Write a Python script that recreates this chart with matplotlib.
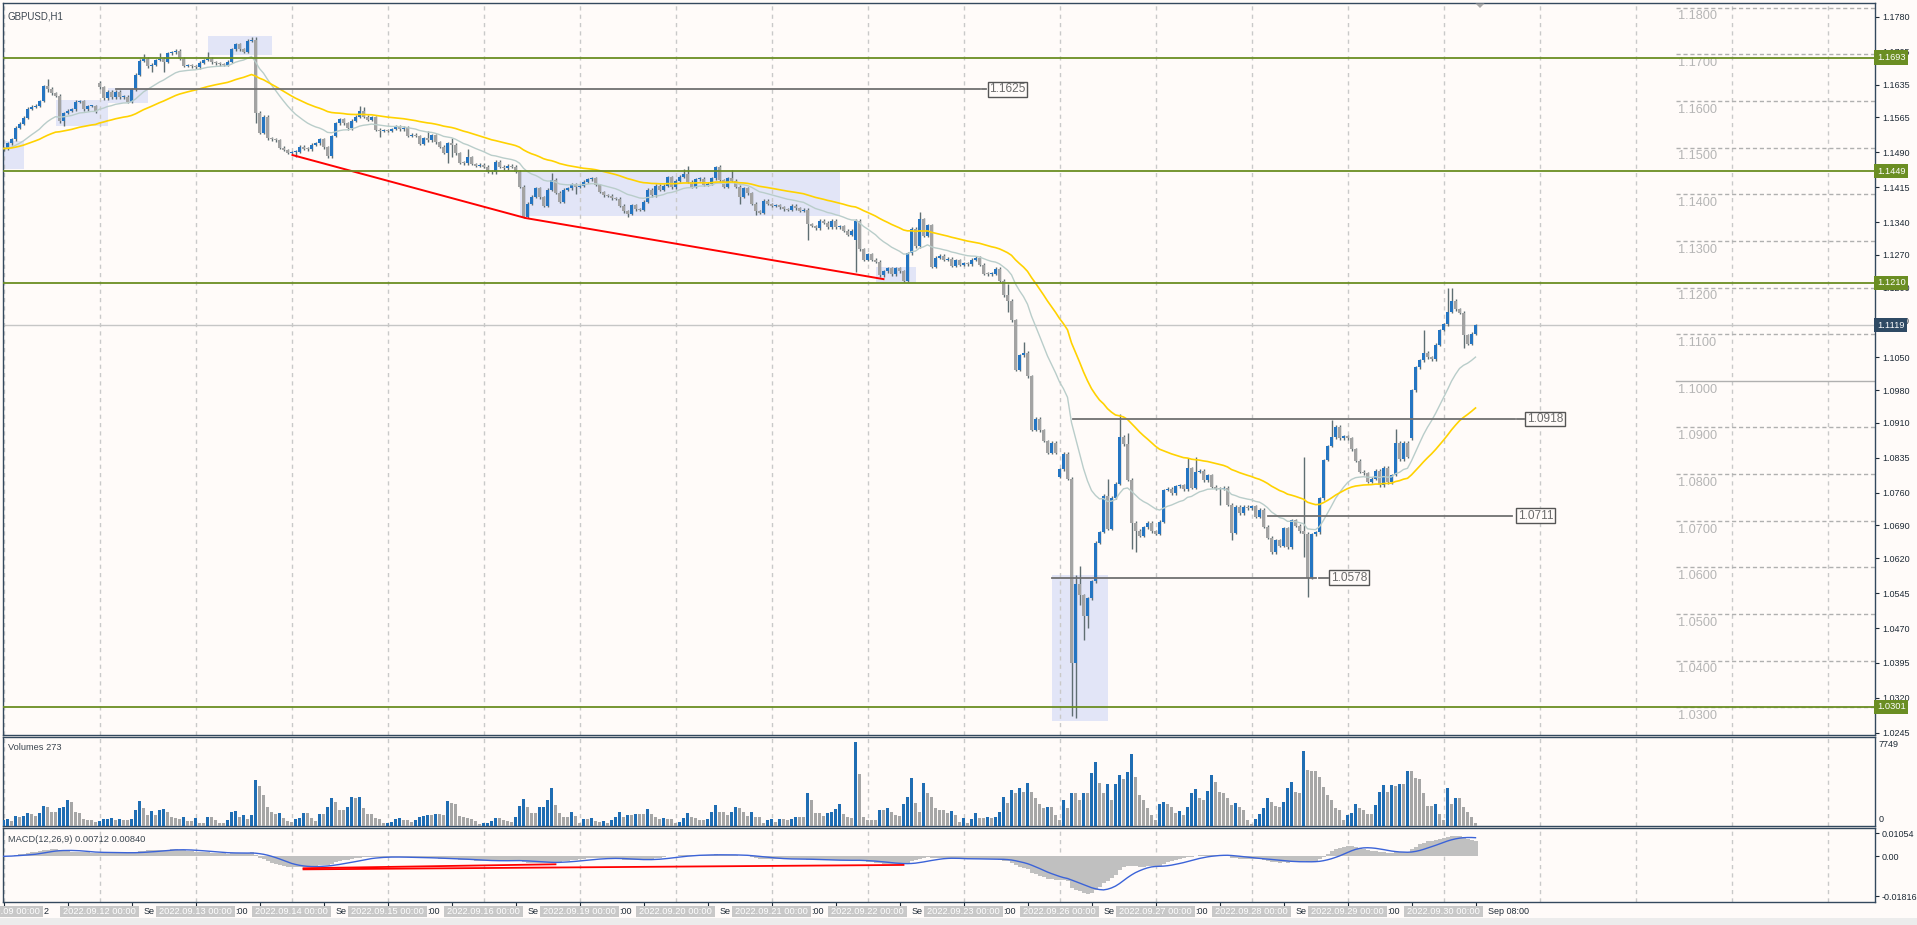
import matplotlib

matplotlib.use("Agg")
import matplotlib.pyplot as plt
from matplotlib.patches import Polygon, Rectangle
import numpy as np
import pandas as pd

W, H = 1917, 925
BG = "#fffbf9"
FONT = "Liberation Sans"
plt.rcParams["font.family"] = [FONT, "DejaVu Sans"]

# H1 closes in pips (0.0001), one per bar starting 2022.09.09 00:00
CLOSE_PIPS = [
    11498, 11509, 11518, 11543, 11551, 11564, 11583, 11588, 11590, 11600,
    11631, 11626, 11616, 11611, 11556, 11574, 11579, 11582, 11598, 11600,
    11582, 11589, 11589, 11577, 11629, 11606, 11620, 11608, 11620, 11608,
    11609, 11598, 11625, 11656, 11686, 11691, 11674, 11678, 11688, 11691,
    11684, 11702, 11704, 11708, 11691, 11675, 11676, 11674, 11672, 11682,
    11688, 11691, 11683, 11681, 11679, 11677, 11684, 11711, 11722, 11711,
    11706, 11729, 11731, 11575, 11532, 11566, 11520, 11518, 11516, 11500,
    11495, 11489, 11490, 11491, 11502, 11498, 11496, 11506, 11509, 11518,
    11501, 11481, 11525, 11552, 11561, 11552, 11541, 11558, 11566, 11579,
    11566, 11559, 11565, 11538, 11536, 11537, 11536, 11540, 11545, 11539,
    11543, 11525, 11528, 11525, 11508, 11520, 11516, 11526, 11511, 11502,
    11489, 11509, 11506, 11488, 11468, 11466, 11480, 11465, 11461, 11463,
    11459, 11448, 11447, 11470, 11459, 11456, 11461, 11459, 11448, 11416,
    11352, 11380, 11395, 11413, 11393, 11375, 11410, 11431, 11403, 11384,
    11410, 11413, 11422, 11416, 11418, 11427, 11432, 11434, 11420, 11405,
    11398, 11397, 11391, 11390, 11375, 11363, 11358, 11377, 11368, 11367,
    11384, 11410, 11398, 11418, 11410, 11418, 11436, 11415, 11429, 11438,
    11443, 11427, 11416, 11432, 11433, 11420, 11423, 11434, 11459, 11430,
    11416, 11434, 11429, 11416, 11395, 11413, 11402, 11380, 11363, 11360,
    11386, 11379, 11375, 11377, 11372, 11368, 11367, 11375, 11370, 11365,
    11367, 11336, 11332, 11327, 11343, 11339, 11329, 11343, 11329, 11332,
    11322, 11313, 11322, 11343, 11282, 11259, 11272, 11260, 11255, 11226,
    11235, 11241, 11228, 11241, 11235, 11215, 11273, 11326, 11288, 11347,
    11311, 11333, 11245, 11264, 11268, 11260, 11262, 11247, 11258, 11249,
    11252, 11250, 11260, 11264, 11249, 11230, 11228, 11230, 11240, 11215,
    11183, 11172, 11130, 11023, 11055, 11060, 11010, 10895, 10919, 10894,
    10871, 10846, 10867, 10846, 10810, 10844, 10790, 10395, 10564, 10540,
    10495, 10534, 10570, 10653, 10676, 10754, 10683, 10749, 10779, 10880,
    10864, 10788, 10696, 10679, 10668, 10686, 10696, 10677, 10672, 10698,
    10766, 10769, 10759, 10774, 10776, 10767, 10812, 10771, 10805, 10807,
    10787, 10798, 10773, 10769, 10768, 10771, 10734, 10674, 10730, 10716,
    10730, 10727, 10731, 10709, 10724, 10687, 10664, 10632, 10658, 10646,
    10684, 10643, 10701, 10689, 10677, 10672, 10578, 10671, 10675, 10748,
    10830, 10860, 10879, 10902, 10877, 10881, 10877, 10853, 10829, 10805,
    10802, 10784, 10790, 10807, 10776, 10814, 10782, 10798, 10867, 10832,
    10867, 10837, 10980, 11029, 11044, 11060, 11050, 11046, 11077, 11109,
    11121, 11148, 11172, 11153, 11146, 11098, 11079, 11101, 11119,
]
# opens that differ from the previous close (weekend gaps etc.)
OPEN_PIPS = {0: 11496, 24: 11639, 213: 11302, 264: 10794, 352: 10877}
HIGH_PIPS = {
    6: 11586, 10: 11634, 11: 11647, 35: 11700, 39: 11702, 51: 11704,
    62: 11738, 63: 11737, 89: 11589, 90: 11588, 106: 11536, 112: 11520,
    116: 11498, 137: 11446, 170: 11455, 171: 11460, 178: 11461, 182: 11453,
    229: 11362, 251: 11207, 255: 11083, 268: 10583, 269: 10602, 276: 10790,
    279: 10929, 281: 10889, 296: 10834, 298: 10837, 325: 10837, 332: 10917,
    348: 10896, 355: 11109, 361: 11198, 362: 11198,
}
LOW_PIPS = {
    11: 11620, 15: 11546, 37: 11661, 40: 11661, 63: 11552, 73: 11480,
    81: 11477, 94: 11523, 111: 11467, 112: 11480, 130: 11348, 143: 11401,
    156: 11352, 184: 11380, 188: 11356, 201: 11302, 213: 11234, 251: 11147,
    267: 10282, 268: 10278, 269: 10519, 270: 10444, 271: 10470, 282: 10640,
    283: 10632, 304: 10734, 307: 10658, 325: 10623, 326: 10537, 365: 11070,
}
WICK_PIPS = 3

VOLUMES = [
    500, 580, 430, 860, 820, 860, 1130, 1070, 860, 1130,
    1810, 1750, 1280, 1280, 1590, 1750, 2370, 2210, 1280, 1190,
    570, 510, 510, 360, 430, 570, 600, 660, 510, 570,
    510, 510, 570, 1440, 2300, 1590, 970, 1380, 970, 1440,
    1500, 1280, 750, 660, 570, 750, 430, 430, 660, 260,
    260, 750, 750, 510, 260, 200, 510, 1280, 1340, 750,
    970, 570, 970, 4220, 3670, 2830, 1690, 1280, 1070, 1130,
    660, 430, 360, 570, 660, 1190, 1130, 660, 430, 1070,
    1070, 1750, 2520, 2210, 1440, 1440, 1750, 2680, 2520, 2680,
    1590, 1070, 1070, 660, 570, 200, 260, 360, 570, 660,
    510, 510, 360, 510, 750, 860, 970, 970, 1070, 1070,
    970, 2300, 2060, 2000, 860, 750, 660, 570, 430, 110,
    200, 260, 430, 660, 660, 510, 430, 360, 750, 1810,
    2430, 1690, 1190, 1190, 1690, 1750, 2370, 3450, 1910, 1130,
    820, 750, 1280, 860, 200, 570, 570, 660, 430, 360,
    430, 260, 510, 750, 1250, 750, 970, 970, 1070, 1070,
    1070, 1500, 1070, 750, 570, 660, 570, 570, 200, 360,
    660, 1190, 750, 660, 510, 510, 570, 1280, 1900, 1280,
    1280, 970, 1280, 1750, 1590, 1280, 860, 1280, 750, 750,
    260, 510, 570, 360, 570, 570, 510, 570, 750, 750,
    750, 3040, 2370, 1190, 1130, 860, 1130, 1280, 1500, 1990,
    1070, 750, 660, 7749, 4780, 750, 510, 510, 510, 1440,
    1440, 1590, 1280, 970, 860, 1990, 2680, 4440, 2060, 1280,
    3910, 3040, 2680, 1590, 1440, 1440, 1130, 1380, 970, 360,
    660, 260, 570, 1190, 660, 660, 750, 660, 750, 1280,
    2680, 2060, 3290, 3040, 3450, 3140, 3910, 3140, 2520, 1990,
    1590, 1750, 1750, 970, 510, 2370, 1590, 3040, 3040, 2370,
    3040, 3040, 4840, 5920, 3910, 2980, 3850, 2370, 3850, 4680,
    4280, 4990, 6630, 4530, 2830, 2370, 1590, 970, 510, 1990,
    2210, 1990, 1690, 1130, 1380, 970, 1690, 2980, 3350, 2520,
    2370, 3230, 4680, 4070, 3140, 2980, 2520, 1900, 2060, 1690,
    1440, 510, 110, 570, 1070, 1590, 2520, 2210, 1810, 1750,
    2210, 3450, 4070, 3140, 3040, 6940, 5150, 5090, 5090, 4530,
    3600, 2830, 2370, 1590, 1440, 510, 970, 1190, 1990, 1590,
    1440, 1070, 1070, 1900, 3140, 3760, 3140, 3760, 3660, 3850,
    3850, 5090, 5090, 4380, 4280, 3040, 1810, 1810, 1990, 1070,
    510, 3450, 1990, 2520, 2520, 1690, 1280, 750, 273,
]

TRADING_DAYS = [9, 12, 13, 14, 15, 16, 19, 20, 21, 22, 23, 26, 27, 28, 29, 30]
FUTURE_DAY_LINES = 4
# parts of the time-scale labels left visible between the date badges
TIME_SCALE_BITS = ["2", "Se", ":00", "Se", ":00", "Se", ":00", "Se", ":00",
                   "Se", ":00", "Se", ":00", "Se", ":00", "Sep 08:00"]

SUPPORT_LEVELS = [1.1693, 1.1449, 1.1210, 1.0301]
LAST_PRICE = 1.1119
ROUND_LEVELS = [1.18, 1.17, 1.16, 1.15, 1.14, 1.13, 1.12, 1.11, 1.10,
                1.09, 1.08, 1.07, 1.06, 1.05, 1.04, 1.03]
PRICE_TICKS = [1.1780, 1.1705, 1.1635, 1.1565, 1.1490, 1.1415, 1.1340,
               1.1270, 1.1200, 1.1130, 1.1050, 1.0980, 1.0910, 1.0835,
               1.0760, 1.0690, 1.0620, 1.0545, 1.0470, 1.0395, 1.0320,
               1.0245]

# horizontal price-label objects: price, first bar, last bar, label bar
LEVEL_PRICES = [1.1625, 1.0918, 1.0711, 1.0578]
LEVEL_FROM = [28, 267.3, 316, 262]
LEVEL_TO = [244, 377.8, 377.2, 328.2]
LEVEL_LABEL_AT = [246.4, 380.8, 378.6, 331.8]

# shaded zones: bar from, bar to, price low, price high
ZONE_BARS = [(-1, 5), (13, 26), (26, 36), (51, 67), (129, 209), (218, 228), (262, 276)]
ZONE_PRICES = [(1.1455, 1.1514), (1.1546, 1.1602), (1.1596, 1.1628),
               (1.1699, 1.1739), (1.1353, 1.1448), (1.1210, 1.1244),
               (1.0270, 1.0584)]

TREND_BARS = [72.25, 130.5, 220]
TREND_PRICES = [1.1484, 1.1349, 1.1218]
MACD_TREND_BARS = [(75, 138), (75, 225)]
MACD_TREND_VALUES = [(-0.0054, -0.0036), (-0.0059, -0.0039)]

BULL = "#2475c2"
BEAR = "#a3a3a3"
WICK = "#5f6e72"
FRAME = "#34495e"
TEXT = "#1e2a36"


def box(x0, y0, x1, y1):
    return [x0 / W, 1 - y1 / H, (x1 - x0) / W, (y1 - y0) / H]


def main():
    n = len(CLOSE_PIPS)
    xs = np.arange(n)
    close = np.array(CLOSE_PIPS) / 1e4
    opn = np.r_[close[0], close[:-1]]
    for i, v in OPEN_PIPS.items():
        opn[i] = v / 1e4
    high = np.maximum(opn, close) + WICK_PIPS / 1e4
    low = np.minimum(opn, close) - WICK_PIPS / 1e4
    for i, v in HIGH_PIPS.items():
        high[i] = v / 1e4
    for i, v in LOW_PIPS.items():
        low[i] = v / 1e4

    s = pd.Series(close)
    ma_fast = s.ewm(span=20, adjust=False).mean()
    ma_slow = s.ewm(span=50, adjust=False).mean()
    macd = s.ewm(span=12, adjust=False).mean() - s.ewm(span=26, adjust=False).mean()
    signal = macd.rolling(9, min_periods=1).mean()

    fig = plt.figure(figsize=(W / 100, H / 100), dpi=100, facecolor=BG)
    ax = fig.add_axes(box(3, 3, 1875, 735), facecolor=BG)
    axv = fig.add_axes(box(3, 737, 1875, 826), facecolor=BG)
    axm = fig.add_axes(box(3, 828, 1875, 902), facecolor=BG)
    xlim = (-0.125, 467.875)
    day_bars = [24 * k for k in range(len(TRADING_DAYS) + FUTURE_DAY_LINES)]

    for a in (ax, axv, axm):
        a.set_xlim(*xlim)
        for sp in a.spines.values():
            sp.set_color(FRAME)
            sp.set_linewidth(1)
        for d in day_bars:
            a.axvline(d, color="#c9c9c9", lw=1, ls=(0, (3, 3)), zorder=1)

    # ---- price window
    ax.set_ylim(1.02406, 1.18100)
    for (b0, b1), (p0, p1) in zip(ZONE_BARS, ZONE_PRICES):
        ax.add_patch(Rectangle((b0, p0), b1 - b0, p1 - p0, fc="#e2e5f7", ec="none", zorder=0.5))

    x_round = 418.0
    for p in ROUND_LEVELS:
        ls = "-" if abs(p - 1.10) < 1e-9 else (0, (3, 2))
        ax.plot([x_round, xlim[1]], [p, p], color="#b0b0b0", lw=1, ls=ls, zorder=1)
        ax.text(x_round + 0.6, p - 0.0006, f"{p:.4f}", fontsize=9.2, color="#b5b5b5",
                ha="left", va="top", zorder=1)

    ax.axhline(LAST_PRICE, color="#c6c6c6", lw=1, zorder=2)

    ax.vlines(xs, low, high, color=WICK, lw=1, zorder=3)
    body_lo = np.minimum(opn, close)
    body_h = np.maximum(np.abs(close - opn), 0.00022)
    colors = np.where(close >= opn, BULL, BEAR)
    ax.bar(xs, body_h, bottom=body_lo, width=0.76, color=colors, lw=0, zorder=4)

    ax.plot(xs, ma_fast, color="#b9cdca", lw=1, zorder=5)
    ax.plot(xs, ma_slow, color="#ffd200", lw=1.2, zorder=5)
    ax.plot(TREND_BARS, TREND_PRICES, color="#ff0000", lw=1.4, zorder=5)

    for p in SUPPORT_LEVELS:
        ax.axhline(p, color="#6b8e23", lw=1.3, zorder=6)

    for p, b0, b1, bl in zip(LEVEL_PRICES, LEVEL_FROM, LEVEL_TO, LEVEL_LABEL_AT):
        ax.plot([b0, b1], [p, p], color="#707070", lw=1.3, zorder=6)
        ax.plot([b1 + 0.6, bl - 0.8], [p, p], color="#707070", lw=1.3, zorder=6)
        ax.text(bl, p, f"{p:.4f}", fontsize=8.6, color="#6a6a6a", ha="left", va="center",
                zorder=7, bbox=dict(boxstyle="square,pad=0.12", fc=BG, ec="#555555", lw=1))

    ax.yaxis.tick_right()
    ax.set_yticks(PRICE_TICKS)
    ax.set_yticklabels([f"{t:.4f}" for t in PRICE_TICKS])
    ax.tick_params(axis="y", length=3, width=0.8, pad=2, labelsize=6.5, colors=TEXT)
    ax.set_xticks([])

    def axis_badge(price, label, fc):
        ax.text(1.0011, price, label, transform=ax.get_yaxis_transform(), ha="left",
                va="center", fontsize=6.7, color="white", clip_on=False, zorder=10,
                bbox=dict(boxstyle="square,pad=0.28", fc=fc, ec="none"))

    for p in SUPPORT_LEVELS:
        axis_badge(p, f"{p:.4f}", "#6b8e23")
    axis_badge(LAST_PRICE, f"{LAST_PRICE:.4f}", "#2f4a64")

    ax.text(0.0022, 0.989, "GBPUSD,H1", transform=ax.transAxes, fontsize=7,
            color="#3c4650", ha="left", va="top")

    # ---- volumes window
    vols = np.array(VOLUMES)
    vcol = np.where(np.r_[True, vols[1:] > vols[:-1]], "#1f6db3", "#a6a6a6")
    axv.bar(xs, vols, width=0.72, color=vcol, lw=0, zorder=3)
    axv.set_ylim(-46, 8213)
    axv.set_xticks([])
    axv.set_yticks([])
    axv.text(0.0027, 0.93, "Volumes 273", transform=axv.transAxes, fontsize=6.7,
             color="#3c4650", ha="left", va="top")

    # ---- MACD window
    axm.bar(xs, macd, width=1.0, color="#c0c0c0", lw=0, zorder=2)
    axm.plot(xs, signal, color="#3b63d8", lw=1, zorder=3)
    for (b0, b1), (v0, v1) in zip(MACD_TREND_BARS, MACD_TREND_VALUES):
        axm.plot([b0, b1], [v0, v1], color="#ff0000", lw=1.3, zorder=4)
    axm.set_ylim(-0.02067, 0.01281)
    axm.yaxis.tick_right()
    axm.set_yticks([0.01054, 0.0, -0.01816])
    axm.set_yticklabels(["0.01054", "0.00", "-0.01816"])
    axm.tick_params(axis="y", length=3, width=0.8, pad=2, labelsize=6.5, colors=TEXT)
    axm.text(0.0027, 0.9, "MACD(12,26,9) 0.00712 0.00840", transform=axm.transAxes,
             fontsize=6.7, color="#3c4650", ha="left", va="top")

    axm.set_xticks(list(range(0, n, 16)))
    axm.set_xticklabels([])
    axm.tick_params(axis="x", length=2.6, width=0.8, colors=TEXT)

    fig.text(1879 / W, 1 - 744.5 / H, "7749", fontsize=6.5, color=TEXT, va="center")
    fig.text(1879 / W, 1 - 819.5 / H, "0", fontsize=6.5, color=TEXT, va="center")

    # ---- time scale: date badges of the day separators
    for k, day in enumerate(TRADING_DAYS):
        xc = 3.5 + 4 * 24 * k
        fig.patches.append(Rectangle(((xc - 39.5) / W, 1 - 917 / H), 79 / W, 11 / H,
                                     transform=fig.transFigure, fc="#c8c8c8", ec="none",
                                     zorder=6))
        fig.text(xc / W, 1 - 911.5 / H, f"2022.09.{day:02d} 00:00", fontsize=6.7,
                 color="white", ha="center", va="center", zorder=7)
        bit = TIME_SCALE_BITS[k]
        gap = 0.5 if bit.startswith(":") or len(bit) == 1 else 4.5
        fig.text((xc + 39.5 + gap) / W, 1 - 911.5 / H, bit, fontsize=6.5,
                 color=TEXT, ha="left", va="center", zorder=5)
    fig.patches.append(Rectangle((0, 0), 1, 7 / H, transform=fig.transFigure,
                                 fc="#ececec", ec="none", zorder=1))

    # chart shift marker
    tri = [(1475.5, 3.5), (1484.5, 3.5), (1480, 8)]
    fig.patches.append(Polygon([(x / W, 1 - y / H) for x, y in tri], closed=True,
                               transform=fig.transFigure, fc="#a8a8a8", ec="none",
                               zorder=8))

    fig.savefig("out.png", dpi=100, facecolor=BG)
    plt.close(fig)


if __name__ == "__main__":
    main()
